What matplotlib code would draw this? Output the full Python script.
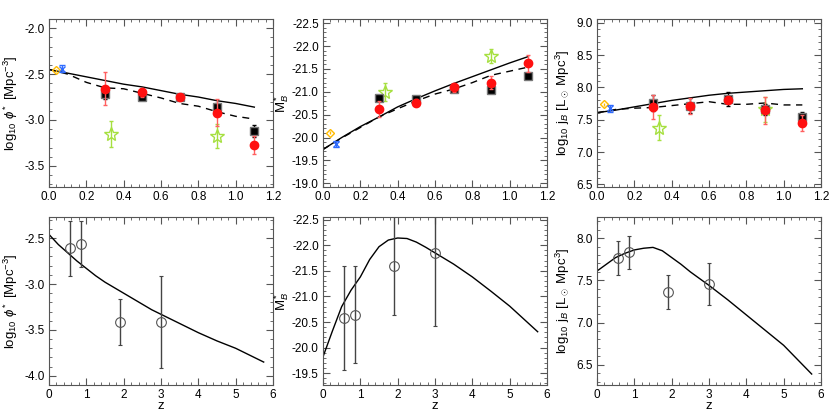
import numpy as np
import matplotlib
matplotlib.use("Agg")
import matplotlib.pyplot as plt
from matplotlib.ticker import MultipleLocator, AutoMinorLocator

plt.rcParams["font.family"] = ["Liberation Sans", "DejaVu Sans"]
plt.rcParams["mathtext.fontset"] = "custom"
plt.rcParams["mathtext.rm"] = "Liberation Sans"
plt.rcParams["mathtext.it"] = "Liberation Sans:italic"

# ---- DATA: top row (low z) ----
z_model = [0.0, 0.1, 0.2, 0.3, 0.4, 0.5, 0.6, 0.7, 0.8, 0.9, 1.0, 1.1]
phi_solid = [-2.45, -2.49, -2.53, -2.57, -2.61, -2.64, -2.68, -2.72, -2.75, -2.79, -2.82, -2.86]
phi_dash = [-2.45, -2.50, -2.59, -2.65, -2.66, -2.71, -2.76, -2.82, -2.85, -2.91, -2.96, -2.99]
mstar_solid = [-19.74, -20.00, -20.24, -20.45, -20.67, -20.85, -21.02, -21.18, -21.33, -21.48, -21.63, -21.77]
mstar_dash = [-19.74, -19.99, -20.22, -20.45, -20.63, -20.80, -20.95, -21.06, -21.20, -21.36, -21.45, -21.54]
jb_solid = [7.61, 7.65, 7.70, 7.75, 7.80, 7.84, 7.88, 7.91, 7.93, 7.95, 7.97, 7.98]
jb_dash = [7.61, 7.66, 7.68, 7.69, 7.72, 7.75, 7.78, 7.74, 7.74, 7.76, 7.73, 7.73]

z_bins = [0.3, 0.5, 0.7, 0.9, 1.1]
phi_black = [-2.72, -2.75, -2.75, -2.86, -3.12]
phi_black_err = [0.05, 0.03, 0.03, 0.05, 0.06]
phi_red = [-2.66, -2.70, -2.75, -2.92, -3.27]
phi_red_err = [0.18, 0.05, 0.03, 0.15, 0.10]
mstar_black = [-20.86, -20.84, -21.05, -21.04, -21.35]
mstar_black_err = [0.07, 0.07, 0.06, 0.05, 0.07]
mstar_red = [-20.62, -20.76, -21.10, -21.20, -21.62]
mstar_red_err = [0.18, 0.08, 0.10, 0.15, 0.18]
jb_black = [7.76, 7.72, 7.82, 7.66, 7.54]
jb_black_err = [0.12, 0.12, 0.11, 0.08, 0.08]
jb_red = [7.70, 7.71, 7.81, 7.65, 7.45]
jb_red_err = [0.19, 0.12, 0.05, 0.21, 0.12]

z_green = [0.33, 0.9]
phi_green = [-3.15, -3.17]
phi_green_err = [0.14, 0.13]
mstar_green = [-21.0, -21.78]
mstar_green_err = [0.2, 0.15]
jb_green = [7.38, 7.66]
jb_green_err = [0.2, 0.2]

z_orange = [0.04]
phi_orange = [-2.46]
mstar_orange = [-20.11]
jb_orange = [7.74]

z_blue = [0.07]
phi_blue = [-2.44]
mstar_blue = [-19.86]
jb_blue = [7.68]

# ---- DATA: bottom row (high z) ----
z_curve = [0.0, 0.25, 0.5, 0.75, 1.0, 1.25, 1.5, 1.75, 2.0, 2.25, 2.5, 2.75, 3.0, 3.5, 4.0,
           4.5, 5.0, 5.75]
phi_curve = [-2.46, -2.57, -2.66, -2.75, -2.83, -2.91, -2.98, -3.04, -3.10, -3.16, -3.22,
             -3.28, -3.33, -3.43, -3.53, -3.62, -3.70, -3.85]
mstar_curve = [-19.82, -20.32, -20.80, -21.12, -21.38, -21.72, -21.97, -22.10, -22.14, -22.13,
               -22.06, -21.96, -21.85, -21.63, -21.38, -21.10, -20.81, -20.31]
jb_curve = [7.61, 7.69, 7.77, 7.82, 7.86, 7.88, 7.89, 7.85, 7.77, 7.69, 7.60, 7.52, 7.44,
            7.27, 7.09, 6.91, 6.73, 6.39]

z_hi = [0.55, 0.85, 1.9, 3.0]
phi_hi = [-2.61, -2.56, -3.41, -3.41]
phi_hi_err = [0.30, 0.25, 0.25, 0.50]
mstar_hi = [-20.58, -20.64, -21.60, -21.85]
mstar_hi_err = [1.02, 0.95, 0.96, 1.43]
jb_hi = [7.76, 7.83, 7.36, 7.46]
jb_hi_err = [0.20, 0.20, 0.20, 0.25]

RED = "#ff1010"
RED_ERR = "#ff6060"
GREEN = "#a6e040"
ORANGE = "#ffbb00"
BLUE = "#2f6bff"


def style_axes(ax, xmajor, ymajor):
    ax.xaxis.set_major_locator(MultipleLocator(xmajor))
    ax.yaxis.set_major_locator(MultipleLocator(ymajor))
    ax.xaxis.set_minor_locator(AutoMinorLocator(5))
    ax.yaxis.set_minor_locator(AutoMinorLocator(5))
    ax.tick_params(which="both", direction="in", top=True, right=True, labelsize=8.5,
                   color="#555555", pad=3)
    ax.tick_params(which="major", length=5, width=0.8)
    ax.tick_params(which="minor", length=2.5, width=0.6)
    for sp in ax.spines.values():
        sp.set_linewidth(0.8)
        sp.set_color("#555555")


def top_panel(ax, solid, dash, black, black_err, red, red_err, green, green_err,
              orange, blue, ylim, ymajor, fmt):
    ax.plot(z_model, solid, color="black", lw=1.0)
    ax.plot(z_model, dash, color="black", lw=1.0, ls=(0, (5, 4)))
    ax.errorbar(z_green, green, yerr=green_err, fmt="*", ms=10, mfc="none", mec=GREEN,
                ecolor=GREEN, elinewidth=1.0, capsize=1.5, zorder=3)
    ax.errorbar(z_bins, black, yerr=black_err, fmt="s", ms=6, mfc="black", mec="#777777",
                ecolor="black", elinewidth=1.0, capsize=1.5, zorder=4)
    ax.errorbar(z_bins, red, yerr=red_err, fmt="o", ms=6, mfc=RED, mec=RED,
                ecolor=RED_ERR, elinewidth=1.0, capsize=1.5, zorder=5)
    ax.errorbar(z_orange, orange, yerr=[abs(ylim[1] - ylim[0]) * 0.01], fmt="D", ms=4,
                mfc="none", mec=ORANGE, ecolor=ORANGE, elinewidth=1.0, capsize=0, zorder=5)
    ax.errorbar(z_blue, blue, yerr=[abs(ylim[1] - ylim[0]) * 0.02], fmt="x", ms=5,
                mec=BLUE, ecolor=BLUE, elinewidth=1.0, capsize=2.5, zorder=5)
    ax.set_xlim(0, 1.2)
    ax.set_ylim(*ylim)
    style_axes(ax, 0.2, ymajor)
    ax.xaxis.set_major_formatter(plt.FormatStrFormatter("%.1f"))
    ax.yaxis.set_major_formatter(plt.FormatStrFormatter(fmt))


def bottom_panel(ax, curve, pts, err, ylim, fmt):
    ax.plot(z_curve, curve, color="black", lw=1.0)
    ax.errorbar(z_hi, pts, yerr=err, fmt="o", ms=7, mfc="none", mec="#555555", mew=0.8,
                ecolor="#444444", elinewidth=1.0, capsize=1.5)
    ax.set_xlim(0, 6)
    ax.set_ylim(*ylim)
    style_axes(ax, 1, 0.5)
    ax.yaxis.set_major_formatter(plt.FormatStrFormatter(fmt))
    ax.set_xlabel("z", fontsize=9.5, labelpad=-1)


def make_figure():
    fig = plt.figure(figsize=(8.3, 4.15), dpi=100)
    lefts = [49 / 830, 323 / 830, 597 / 830]
    width = 224 / 830
    height = 168 / 415
    top_b = 228 / 415
    bot_b = 30 / 415

    ax1 = fig.add_axes([lefts[0], top_b, width, height])
    ax2 = fig.add_axes([lefts[1], top_b, width, height])
    ax3 = fig.add_axes([lefts[2], top_b, width, height])
    ax4 = fig.add_axes([lefts[0], bot_b, width, height])
    ax5 = fig.add_axes([lefts[1], bot_b, width, height])
    ax6 = fig.add_axes([lefts[2], bot_b, width, height])

    top_panel(ax1, phi_solid, phi_dash, phi_black, phi_black_err, phi_red, phi_red_err,
              phi_green, phi_green_err, phi_orange, phi_blue, (-3.73, -1.9), 0.5, "%.1f")
    top_panel(ax2, mstar_solid, mstar_dash, mstar_black, mstar_black_err, mstar_red,
              mstar_red_err, mstar_green, mstar_green_err, mstar_orange, mstar_blue,
              (-18.92, -22.59), 0.5, "%.1f")
    top_panel(ax3, jb_solid, jb_dash, jb_black, jb_black_err, jb_red, jb_red_err,
              jb_green, jb_green_err, jb_orange, jb_blue, (6.46, 9.06), 0.5, "%.1f")

    bottom_panel(ax4, phi_curve, phi_hi, phi_hi_err, (-4.10, -2.27), "%.1f")
    bottom_panel(ax5, mstar_curve, mstar_hi, mstar_hi_err, (-19.27, -22.55), "%.1f")
    bottom_panel(ax6, jb_curve, jb_hi, jb_hi_err, (6.26, 8.25), "%.1f")

    lab_phi = r"log$_{10}$ $\phi^*$ [Mpc$^{-3}$]"
    lab_m = r"M$^*_B$"
    lab_j = r"log$_{10}$ j$_B$ [L$_\odot$ Mpc$^{3}$]"
    for ax in (ax1, ax4):
        ax.set_ylabel(lab_phi, fontsize=9.5, labelpad=3)
    for ax in (ax2, ax5):
        ax.set_ylabel(lab_m, fontsize=9.5, labelpad=1)
    for ax in (ax3, ax6):
        ax.set_ylabel(lab_j, fontsize=9.5, labelpad=3)

    fig.savefig("out.png", dpi=100)


if __name__ == "__main__":
    make_figure()
